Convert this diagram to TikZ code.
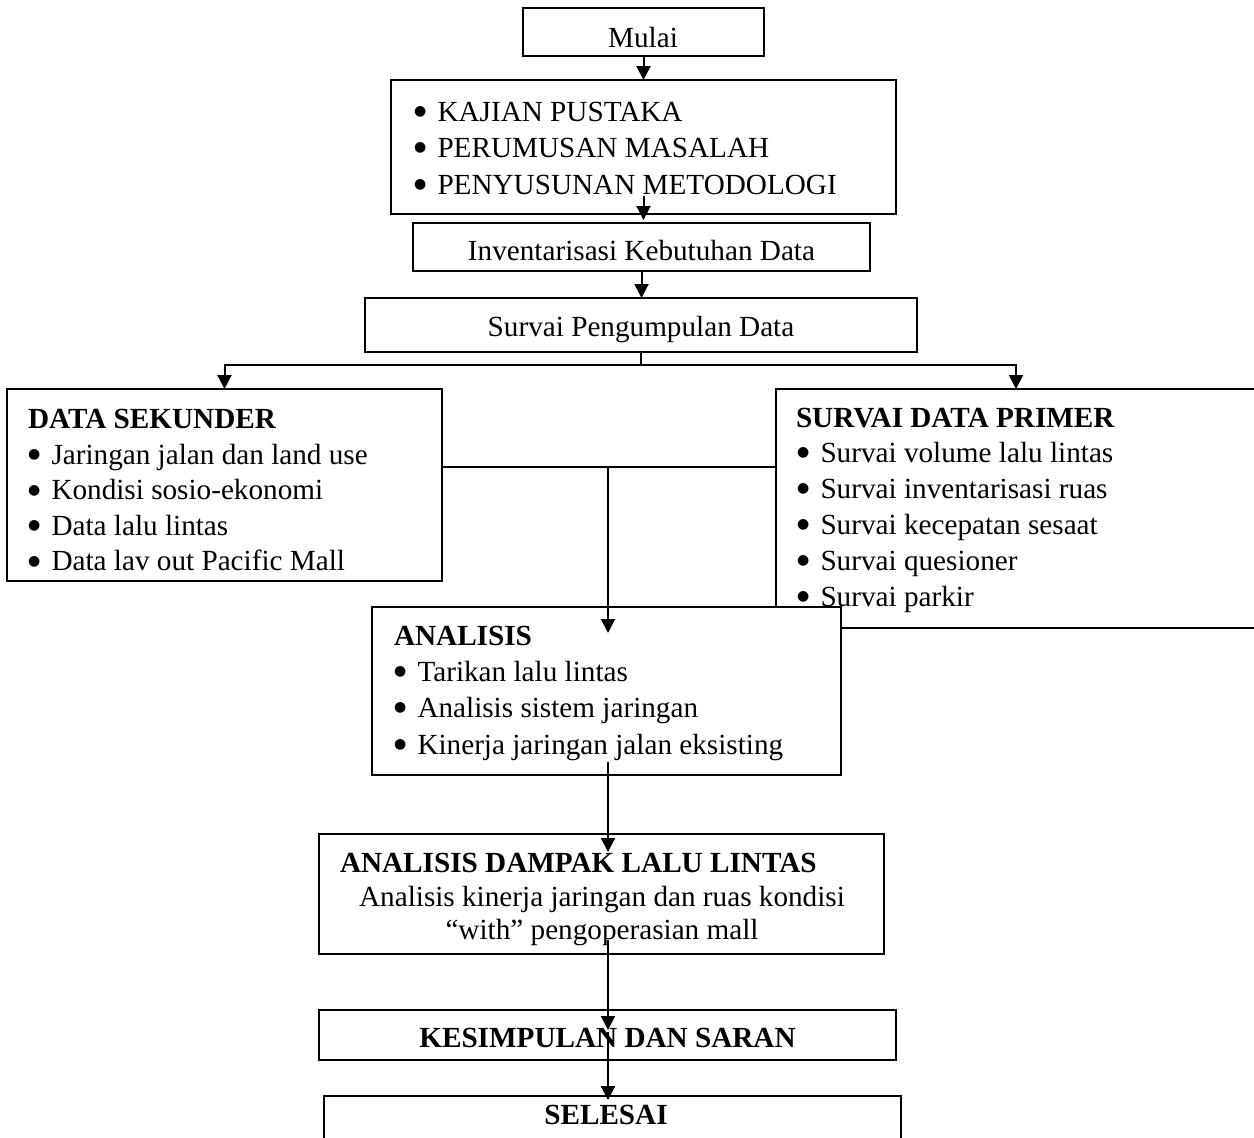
\documentclass[tikz,border=0pt]{standalone}
\usepackage{fontspec}
\setmainfont{Liberation Serif}
\newfontfamily\symfont{DejaVu Sans}
\usetikzlibrary{arrows.meta,calc}
\newcommand{\bul}{\makebox[23.5pt][l]{\raisebox{5.5pt}{\symfont\fontsize{14}{14}\selectfont ●}}}
\begin{document}
\begin{tikzpicture}[x=1pt,y=-1pt,
  box/.style={draw, line width=2.2pt, inner sep=0pt, outer sep=0pt, anchor=north west, fill=white},
  txt/.style={inner sep=0pt, outer sep=0pt, font=\fontsize{29.2}{35}\selectfont},
  hd/.style={txt, font=\fontsize{29.2}{35}\selectfont\bfseries},
  arr/.style={line width=2pt, -{Triangle[length=14pt,width=14pt]}},
  ln/.style={line width=2pt}]
\clip (0,0) rectangle (1254,1138);
\fill[white] (0,0) rectangle (1254,1138);
% boxes
\node[box, minimum width=241pt, minimum height=48pt] (mulai) at (523,8) {};
\node[box, minimum width=505pt, minimum height=134pt] (kajian) at (391,80) {};
\node[box, minimum width=457pt, minimum height=48pt] (inv) at (413,223) {};
\node[box, minimum width=552pt, minimum height=54pt] (survai) at (365,298) {};
\node[box, minimum width=435pt, minimum height=192pt] (datasek) at (7,389) {};
\node[box, minimum width=500pt, minimum height=239pt] (primer) at (776,389) {};
\node[box, minimum width=469pt, minimum height=168pt] (analisis) at (372,607) {};
\node[box, minimum width=565pt, minimum height=120pt] (dampak) at (319,834) {};
\node[box, minimum width=577pt, minimum height=50pt] (kes) at (319,1010) {};
\node[box, minimum width=577pt, minimum height=80pt] (sel) at (324,1096) {};
% texts
\node[txt, anchor=base] (tmulai) at (643,47) {Mulai};
\node[txt, anchor=base west] (k1) at (414,121) {\bul KAJIAN PUSTAKA};
\node[txt, anchor=base west] (k2) at (414,157) {\bul PERUMUSAN MASALAH};
\node[txt, anchor=base west] (k3) at (414,194) {\bul PENYUSUNAN METODOLOGI};
\node[txt, anchor=base] (tinv) at (641.5,260) {Inventarisasi Kebutuhan Data};
\node[txt, anchor=base] (tsurvai) at (641,336) {Survai Pengumpulan Data};
\node[hd, anchor=base west] (dsh) at (28,428) {DATA SEKUNDER};
\node[txt, anchor=base west] (ds1) at (28,464) {\bul Jaringan jalan dan land use};
\node[txt, anchor=base west] (ds2) at (28,499.5) {\bul Kondisi sosio-ekonomi};
\node[txt, anchor=base west] (ds3) at (28,535) {\bul Data lalu lintas};
\node[txt, anchor=base west] (ds4) at (28,570.5) {\bul Data lav out Pacific Mall};
\node[hd, anchor=base west] (dph) at (796,427) {SURVAI DATA PRIMER};
\node[txt, anchor=base west] (dp1) at (797,462) {\bul Survai volume lalu lintas};
\node[txt, anchor=base west] (dp2) at (797,498) {\bul Survai inventarisasi ruas};
\node[txt, anchor=base west] (dp3) at (797,534) {\bul Survai kecepatan sesaat};
\node[txt, anchor=base west] (dp4) at (797,570) {\bul Survai quesioner};
\node[txt, anchor=base west] (dp5) at (797,606) {\bul Survai parkir};
\node[hd, anchor=base west] (anh) at (394,645) {ANALISIS};
\node[txt, anchor=base west] (an1) at (394,681) {\bul Tarikan lalu lintas};
\node[txt, anchor=base west] (an2) at (394,717) {\bul Analisis sistem jaringan};
\node[txt, anchor=base west] (an3) at (394,754) {\bul Kinerja jaringan jalan eksisting};
\node[hd, anchor=base west] (dah) at (340,872) {ANALISIS DAMPAK LALU LINTAS};
\node[txt, anchor=base] (da1) at (602,906) {Analisis kinerja jaringan dan ruas kondisi};
\node[txt, anchor=base] (da2) at (602,939) {“with” pengoperasian mall};
\node[hd, anchor=base] (tkes) at (607.5,1047) {KESIMPULAN DAN SARAN};
\node[hd, anchor=base] (tsel) at (606,1124) {SELESAI};
% connectors
\draw[arr] (mulai.south) -- (kajian.north);
\draw[arr] ($(kajian.south)+(0,-18)$) -- ($(kajian.south |- inv.north)+(0,-3)$);
\draw[arr] (inv.south) -- (inv.south |- survai.north);
\draw[ln] (survai.south) -- ++(0,13) coordinate (split);
\draw[arr] (split) -| (datasek.north);
\coordinate (pr) at (1016,389);
\draw[arr] (split) -| (pr);
\coordinate (mid) at (608,467);
\draw[ln] (mid -| datasek.east) -- (mid -| primer.west);
\draw[arr] (mid) -- ($(mid |- analisis.north)+(0,26)$);
\draw[arr] ($(mid |- analisis.south)+(0,-13)$) -- ($(mid |- dampak.north)+(0,18)$);
\draw[arr] ($(mid |- dampak.south)+(0,-14)$) -- ($(mid |- kes.north)+(0,20)$);
\draw[arr] ($(mid |- kes.north)+(0,22)$) -- ($(mid |- sel.north)+(0,4)$);
\end{tikzpicture}
\end{document}
